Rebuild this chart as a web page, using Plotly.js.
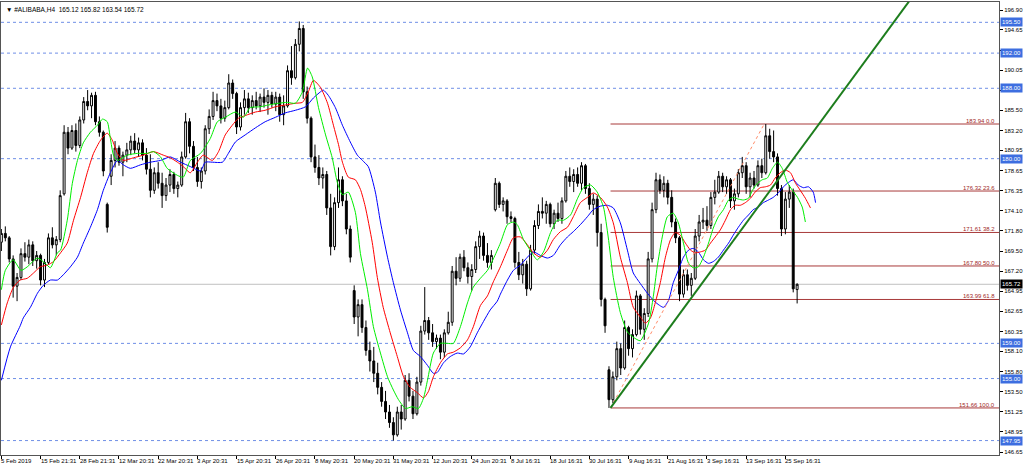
<!DOCTYPE html>
<html><head><meta charset="utf-8">
<script src="https://cdn.plot.ly/plotly-3.0.1.min.js"></script>
<style>html,body{margin:0;padding:0;background:#fff;}#chart{width:1024px;height:468px;}</style>
</head><body><div id="chart"></div>
<script>
const symbolName = '#ALIBABA,H4';
const opens = [170.5,171.5,171.0,168.6,165.5,166.5,169.2,168.8,170.2,168.4,
169.0,166.2,168.2,171.0,170.2,170.8,176.0,183.0,181.2,183.2,
181.5,184.4,186.5,186.0,187.2,184.2,183.0,174.8,178.0,179.8,
181.2,179.6,180.4,181.0,182.0,181.0,181.8,180.4,178.8,176.4,
178.4,177.2,175.8,177.0,178.2,176.6,177.0,180.2,184.2,181.4,
179.0,177.4,178.6,183.4,184.8,186.6,186.0,184.6,185.8,188.6,
187.4,183.6,185.8,186.8,185.8,186.6,186.0,187.0,186.4,187.2,
186.2,187.0,185.0,186.0,190.0,189.2,193.0,194.8,187.6,184.6,
180.2,179.0,177.8,178.2,174.4,170.0,175.0,177.6,175.2,172.0,
165.0,162.0,163.4,160.8,158.2,157.0,155.6,154.0,152.4,151.2,
150.0,148.6,151.2,150.4,154.8,153.0,151.0,154.6,160.4,161.6,
160.2,159.2,159.6,158.0,160.2,161.4,167.2,166.4,168.8,167.6,
166.6,167.4,170.0,171.2,169.0,168.2,174.2,177.2,174.8,175.2,
173.4,173.2,168.2,166.8,168.0,165.2,169.6,172.4,174.0,173.8,
174.8,172.6,173.8,173.2,175.2,178.0,177.4,178.2,177.2,179.2,
176.6,174.8,175.4,171.6,164.0,156.0,152.6,155.2,158.4,156.2,
160.8,158.4,160.0,164.4,160.6,162.4,168.6,174.2,177.6,176.4,
177.2,175.6,172.8,171.0,164.6,166.8,165.6,166.4,171.2,172.8,
173.0,172.4,175.6,176.2,178.0,176.8,177.6,175.2,176.0,178.4,
179.2,176.8,177.8,177.0,179.2,178.4,182.6,180.8,180.2,176.6,
172.0,175.4,176.2,165.12];
const highs = [172.0,172.3,171.2,169.0,167.0,169.8,170.5,170.8,170.6,169.5,
169.2,168.6,171.5,172.2,171.2,176.4,183.8,183.6,183.8,184.0,
184.8,187.0,187.8,187.5,187.6,184.8,183.2,175.0,180.5,182.0,
181.5,180.8,181.8,182.6,182.9,182.4,182.2,181.2,180.5,179.0,
179.6,178.4,177.8,178.8,178.5,177.4,180.8,185.2,184.6,182.0,
180.2,179.0,183.8,185.6,187.6,187.4,186.8,186.6,189.6,189.0,
187.6,186.4,187.8,187.5,187.2,187.6,187.4,188.0,187.8,187.6,
187.6,187.4,187.2,190.6,192.8,193.6,195.6,195.2,188.2,184.8,
181.6,180.4,179.0,178.6,176.0,175.6,179.0,178.0,176.0,172.4,
165.6,164.0,164.0,161.6,159.2,158.6,156.8,154.6,153.6,152.0,
150.6,151.8,152.0,155.4,155.6,153.6,155.2,161.0,165.4,162.0,
161.2,160.0,160.0,160.6,162.6,167.8,168.8,169.2,169.6,168.2,
168.0,170.6,171.8,171.6,170.4,169.6,177.8,177.4,175.6,175.4,
174.0,173.4,169.4,168.6,168.4,170.2,173.0,174.8,175.6,175.2,
175.0,174.2,175.0,175.6,178.6,179.0,178.8,179.0,179.6,179.4,
177.2,176.0,175.8,172.6,164.2,156.4,155.8,159.2,159.0,161.6,
161.0,160.6,165.0,164.6,163.0,169.4,175.0,178.4,178.2,178.0,
177.6,176.4,173.2,171.2,167.4,167.4,167.0,172.0,173.6,174.4,
174.6,176.2,177.6,178.6,178.4,178.0,177.8,176.6,178.8,180.2,
179.6,178.4,178.6,179.8,180.0,183.94,183.4,183.2,180.6,177.0,
176.2,177.0,176.6,165.82];
const lows = [169.5,170.6,168.2,164.2,163.8,166.2,168.3,168.0,167.8,167.5,
165.6,165.4,168.0,169.8,169.0,170.5,175.8,180.5,181.0,180.8,
181.2,184.0,185.5,184.6,183.8,182.5,178.0,171.6,177.0,179.0,
179.2,178.0,179.6,180.4,180.6,180.2,179.8,178.2,175.6,176.0,
176.6,174.4,175.2,176.2,176.0,175.6,176.8,180.0,180.6,178.6,
176.8,176.6,178.2,182.8,184.4,185.4,184.0,184.2,185.6,186.8,
182.8,183.2,185.0,185.2,185.0,185.6,185.3,185.8,185.0,185.8,
185.4,184.2,183.8,185.8,188.4,189.0,192.2,186.8,184.0,179.6,
178.4,177.0,176.6,173.6,169.0,169.6,174.4,174.6,171.4,168.2,
161.2,159.8,160.2,157.6,155.8,154.6,153.2,151.8,150.4,149.4,
147.95,148.4,149.2,150.2,152.4,150.4,150.8,154.2,160.0,159.4,
158.6,158.4,157.2,157.4,160.0,161.0,165.6,166.0,167.2,165.8,
165.0,167.0,168.6,168.4,167.6,167.4,174.0,174.4,174.0,172.6,
172.8,167.6,166.2,165.8,164.4,165.0,169.2,172.0,173.2,172.6,
172.2,172.0,172.8,172.6,175.0,176.8,176.2,176.8,176.4,176.0,
174.2,173.6,170.0,163.2,160.2,151.66,152.2,154.8,155.4,156.0,
157.6,157.4,159.8,160.0,159.4,162.0,168.2,173.8,176.0,175.6,
174.8,172.2,170.4,163.8,164.2,165.0,164.4,166.2,170.6,172.0,
171.8,172.0,174.8,176.0,176.2,176.0,174.4,174.2,175.6,177.8,
176.0,175.6,176.6,176.8,177.8,178.2,180.0,179.6,175.8,171.2,
171.4,174.4,164.8,163.54];
const closes = [171.5,171.0,168.6,165.5,166.5,169.2,168.8,170.2,168.4,169.0,
166.2,168.2,171.0,170.2,170.8,175.8,183.0,181.2,183.2,181.5,
184.4,186.5,186.0,187.2,184.2,183.0,178.6,172.2,179.8,181.2,
179.6,180.4,181.0,182.0,181.0,181.8,180.4,178.8,176.4,178.4,
177.2,175.8,177.0,178.2,176.6,177.0,180.2,184.2,181.4,179.0,
177.4,178.6,183.4,184.8,186.6,186.0,184.6,185.8,188.6,187.4,
183.6,185.8,186.8,185.8,186.6,186.0,187.0,186.4,187.2,186.2,
187.0,185.0,186.0,190.0,189.2,193.0,194.8,187.6,184.6,180.2,
179.0,177.8,178.2,174.4,170.0,175.0,177.6,175.2,172.0,168.8,
162.0,163.4,160.8,158.2,157.0,155.6,154.0,152.4,151.2,150.0,
148.6,151.2,150.4,154.8,153.0,151.0,154.6,160.4,161.6,160.2,
159.2,159.6,158.0,160.2,161.4,167.2,166.4,168.8,167.6,166.6,
167.4,170.0,171.2,169.0,168.2,169.0,177.2,174.8,175.2,173.4,
173.2,168.2,166.8,168.0,165.2,169.6,172.4,174.0,173.8,174.8,
172.6,173.8,173.2,175.2,178.0,177.4,178.2,177.2,179.2,176.6,
174.8,175.4,171.6,164.0,161.0,152.6,155.2,158.4,156.2,160.8,
158.4,160.0,164.4,160.6,162.4,168.6,174.2,177.6,176.4,177.2,
175.6,172.8,171.0,164.6,166.8,165.6,166.4,171.2,172.8,173.0,
172.4,175.6,176.2,178.0,176.8,177.6,175.2,176.0,178.4,179.2,
176.8,177.8,177.0,179.2,178.4,182.6,180.8,180.2,176.6,172.0,
175.4,176.2,165.2,165.72];

// Alligator lines, x in bar units
const lipsBars = [0,1,3,5,6.6,9.2,11.2,12.5,14.3,15.1,16.8,18.1,19.4,20.9,22.7,24.5,25.8,27,27.8,28.6,29.6,32.1,34.7,37.2,38.8,40.6,42.3,44.9,46.4,48.2,50.8,53.3,55.1,57.1,59.7,61.7,63.5,66.1,68.1,70.7,73,75,76.8,78.1,79.3,80.9,82.7,84.4,85.7,87,88.5,90.3,91.6,93.4,94.9,96.7,98.5,100,101.3,103.1,104.8,106.4,107.7,108.7,110.2,112,113.8,115.3,117.1,118.9,120.4,122.2,124,125.5,127.3,129.1,130.6,131.6,133.2,134.9,136.7,138.3,140.1,141.8,143.4,145.2,147,148.5,150.3,152,153.6,154.8,156.1,157.9,159.7,161.2,163,165.1,166.3,167.3,168.6,169.9,171.4,172.7,174,175.3,176.5,177.8,179.1,180.4,181.6,182.9,184.2,185.5,186.7,188,189.3,190.6,191.6,192.9,194.1,195.4,196.7,198,199.2,200.5,201.8,203.1,204.3,205.1];
const lipsVals = [165.1,167.3,168.5,167.3,167.7,168.7,168.1,167.6,169.3,169.6,173.0,177.2,179.8,181.8,183.0,183.8,184.5,184.2,182.3,180.4,179.8,180.4,180.6,180.6,180.8,180.2,178.9,178.1,177.9,179.8,180.6,182.3,184.2,184.7,185.3,184.7,185.8,185.9,186.1,186.3,186.4,186.3,187.6,190.3,189.3,185.8,182.7,180.1,177.3,175.9,176.2,173.9,169.2,165.1,160.9,157.9,155.2,153.7,152.6,151.6,151.8,151.6,152.8,154.8,157.9,159.0,159.0,159.0,160.9,163.6,165.4,166.4,167.3,168.6,170.4,172.5,172.8,172.5,170.8,169.6,168.5,169.4,171.6,173.0,173.0,173.6,175.5,176.7,177.0,176.2,174.5,171.1,166.5,162.5,160.3,159.7,159.3,161.3,164.3,167.7,171.1,173.4,173.8,172.7,170.4,168.1,167.6,167.7,168.8,170.4,172.1,173.4,174.2,175.3,175.6,175.4,175.3,175.5,176.4,177.2,177.6,177.8,178.9,179.6,178.9,177.3,176.4,175.6,174.5,172.8];
const teethBars = [0,1.5,3.1,4.8,6.6,8.2,9.9,11.7,13.3,15.1,16.8,18.4,20.2,21.9,23.5,25.3,27,28.3,29.6,31.1,33.7,36.2,38.8,41.3,43.1,44.9,46.4,48.2,50,51.5,53.8,55.4,57.1,58.9,60.5,62.2,64.8,67.3,69.9,72.4,75,76.8,78.3,79.6,81.4,83.2,84.7,86,87,88.5,90.3,91.6,92.8,94.6,95.9,97.4,99.2,101,102.6,104.3,106.1,107.7,108.9,110.2,112,113.8,115.3,117.1,118.9,120.4,122.2,124,125.5,127.3,129.1,130.6,132.4,134.2,135.7,137.5,139.3,140.8,142.6,144.4,145.9,147.7,149.5,151,152.8,154.6,156.1,157.9,159.7,161.2,163,164.3,165.6,166.8,168.1,169.4,170.7,171.9,173.2,174.5,175.8,177,178.3,179.6,180.9,182.1,183.4,184.7,186,187.2,188.5,189.8,191.1,192.3,193.6,194.9,196.2,197.4,198.7,200,201.3,202.6,203.8,205.1,206.4];
const teethVals = [161.1,163.6,165.4,166.2,166.4,167.0,167.7,167.9,168.3,169.3,170.4,173.0,175.6,178.4,180.6,182.1,182.9,182.1,180.6,179.8,180.1,180.4,180.8,180.4,180.1,179.6,179.1,178.4,179.6,180.4,179.8,180.8,182.7,183.8,184.6,184.9,185.3,185.5,185.9,186.1,186.3,186.4,187.6,188.9,188.1,186.3,183.8,181.6,179.6,177.9,177.6,176.5,174.6,170.5,166.5,163.1,160.2,157.5,155.2,154.0,153.4,152.8,153.5,155.2,156.8,157.8,158.0,158.5,159.4,160.9,163.3,164.4,166.0,167.7,169.6,171.0,171.1,170.2,169.3,168.8,169.6,170.8,171.7,172.2,173.4,175.0,175.6,176.1,175.6,174.5,172.7,168.8,165.9,163.1,162.0,161.3,161.9,163.6,165.9,168.8,170.8,171.6,171.3,170.4,169.6,169.3,169.4,169.6,170.4,171.1,171.9,173.0,174.2,174.7,174.7,175.0,175.5,176.2,176.7,176.8,177.0,177.8,178.4,178.7,178.4,177.2,176.4,175.5,174.4];
const jawBars = [0,2.3,4.8,5.6,7.4,9.2,10.7,12.5,14.3,15.8,17.6,19.4,20.9,22.7,24.5,26,27.8,29.6,31.1,32.9,35.5,38,40.6,43.1,45.7,48.2,50.8,52,53.8,56.4,57.9,59.7,62.2,64.8,67.3,69.9,72.4,75,77.6,79.6,81.4,82.1,83.4,85.2,87,89,90.8,92.1,93.6,95.4,96.7,98.5,100,101.8,103.6,105.1,106.9,108.7,110.2,111.2,112.8,114.5,116.3,117.9,119.6,121.4,123,124.7,126.5,127.3,129.1,130.6,132.4,134.2,135.7,137.5,139.3,140.8,142.6,144.4,145.9,147.7,149.5,151,152.8,154.6,156.1,157.9,159.7,161.2,163,164.8,166.8,168.9,170.2,171.4,172.7,174,175.3,176.5,177.8,179.1,180.4,181.6,182.9,184.2,185.5,186.7,188,189.3,190.6,191.8,193.1,194.4,195.7,196.9,198.2,199.5,200.8,202,203.3,204.6,205.9,207.1,207.7];
const jawVals = [154.8,158.6,161.0,161.9,163.1,164.7,165.6,166.2,166.2,166.8,167.7,168.8,170.4,172.2,174.2,176.4,178.4,179.8,179.3,178.9,179.3,179.6,179.8,180.2,179.6,179.1,178.6,179.6,179.6,179.6,180.6,181.9,182.7,183.5,184.2,184.7,185.2,185.5,185.9,186.9,187.6,187.8,187.2,185.8,183.8,181.9,180.4,179.8,179.1,176.2,172.8,168.8,165.9,162.8,160.2,158.2,157.5,156.5,155.6,155.7,156.8,157.5,157.9,157.8,158.6,160.2,161.5,162.8,163.8,164.6,166.2,167.3,167.9,168.8,169.4,169.0,168.7,169.0,170.2,171.1,171.7,172.5,173.4,174.2,174.6,174.7,174.4,172.7,169.6,167.0,165.8,164.7,163.7,163.1,163.9,165.9,167.3,168.8,169.6,169.8,169.4,168.5,168.1,168.3,168.8,169.6,170.4,171.3,172.2,173.0,173.6,174.2,174.5,175.0,175.3,175.6,176.1,176.8,177.3,177.6,177.0,176.7,176.8,176.2,175.0];

// Horizontal price levels
const levelPrices = [195.50, 192.00, 188.00, 180.00, 159.00, 155.00, 147.95];
const lastPrice = 165.72;
// Fibonacci retracement
const fibPrices = [183.94, 176.32, 171.61, 167.80, 163.99, 151.66];
const fibRatios = ['0.0', '23.6', '38.2', '50.0', '61.8', '100.0'];
const fibAnchorBars = [155.4, 194.6];
const fibAnchorPrices = [151.66, 183.94];
// Trend line anchors
const trendBars = [155.4, 260];
const trendPrices = [151.66, 215.15];

// Axis ticks (labels under the 192.00 / 188.00 boxes are hidden in the picture)
const yTickVals = [196.90,194.65,192.35,190.05,187.75,185.50,183.20,180.95,178.65,176.35,174.10,171.80,169.50,167.20,164.95,162.65,160.35,158.10,155.80,153.50,151.25,148.95,146.65];
const yTickHidden = [192.35, 187.75];
const xTickBars = [0,10,20,30,40,50,60,70,80,90,100,110,120,130,140,150,160,170,180,190,200];
const xTickLabels = ['5 Feb 2019','15 Feb 21:31','28 Feb 21:31','12 Mar 20:31','22 Mar 20:31','3 Apr 20:31','15 Apr 20:31','26 Apr 20:31','8 May 20:31','20 May 20:31','31 May 20:31','12 Jun 20:31','24 Jun 20:31','8 Jul 16:31','18 Jul 16:31','30 Jul 16:31','9 Aug 16:31','21 Aug 16:31','3 Sep 16:31','13 Sep 16:31','25 Sep 16:31'];

const FONT = 'Liberation Sans, Arial, sans-serif';
const FS = 6;
const xRange = [-0.1, 254.5];
const yRange = [146.31, 197.81];
const barIdx = opens.map((_, i) => i);
const last = opens.length - 1;

const traces = [
  {type:'scatter', mode:'lines', x:jawBars, y:jawVals, line:{color:'#0000ff', width:1, shape:'spline', smoothing:0.6}, hoverinfo:'skip'},
  {type:'scatter', mode:'lines', x:teethBars, y:teethVals, line:{color:'#ff0000', width:1, shape:'spline', smoothing:0.6}, hoverinfo:'skip'},
  {type:'scatter', mode:'lines', x:lipsBars, y:lipsVals, line:{color:'#00ee00', width:1, shape:'spline', smoothing:0.6}, hoverinfo:'skip'},
  {type:'scatter', mode:'lines', x:fibAnchorBars, y:fibAnchorPrices, line:{color:'#ff8c69', width:1, dash:'dot'}, hoverinfo:'skip'},
  {type:'scatter', mode:'lines', x:trendBars, y:trendPrices, line:{color:'#1d7d1d', width:2}, hoverinfo:'skip'},
  {type:'candlestick', x:barIdx, open:opens, high:highs, low:lows, close:closes,
   increasing:{line:{color:'#000', width:1}, fillcolor:'#ffffff'},
   decreasing:{line:{color:'#000', width:1}, fillcolor:'#000000'},
   whiskerwidth:0, hoverinfo:'none'}
];

const shapes = [];
levelPrices.forEach(p => shapes.push({type:'line', xref:'paper', x0:0, x1:1, yref:'y', y0:p, y1:p, line:{color:'#6f8fe6', width:1, dash:'dot'}, layer:'below'}));
shapes.push({type:'line', xref:'paper', x0:0, x1:1, yref:'y', y0:lastPrice, y1:lastPrice, line:{color:'#c0c0c0', width:1}, layer:'below'});
fibPrices.forEach(p => shapes.push({type:'line', xref:'x', x0:fibAnchorBars[0], x1:xRange[1], yref:'y', y0:p, y1:p, line:{color:'#a83a3a', width:1}, layer:'below'}));

const annotations = [];
annotations.push({xref:'paper', yref:'paper', x:0, y:1, xshift:3, yshift:-2, xanchor:'left', yanchor:'top', showarrow:false,
  text:'\u25BC ' + symbolName + '  ' + [opens[last], highs[last], lows[last], closes[last]].map(v=>v.toFixed(2)).join(' '),
  font:{family:FONT, size:FS+0.5, color:'#000'}});
levelPrices.forEach(p => annotations.push({xref:'paper', yref:'y', x:1, y:p, xanchor:'left', xshift:1, showarrow:false,
  text:p.toFixed(2), bgcolor:'#3d6ee0', borderpad:1, font:{family:FONT, size:FS, color:'#ffffff'}}));
annotations.push({xref:'paper', yref:'y', x:1, y:lastPrice, xanchor:'left', xshift:1, showarrow:false,
  text:lastPrice.toFixed(2), bgcolor:'#000000', borderpad:1, font:{family:FONT, size:FS, color:'#ffffff'}});
fibPrices.forEach((p, k) => annotations.push({xref:'x', yref:'y', x:xRange[1], y:p, xanchor:'right', yanchor:'bottom', xshift:-2, yshift:-2, showarrow:false,
  text:p.toFixed(2) + ' ' + fibRatios[k], font:{family:FONT, size:FS, color:'#a02828'}}));
xTickBars.forEach((b, k) => annotations.push({xref:'x', yref:'paper', x:b, y:0, xanchor:'left', yanchor:'top', xshift:-2, yshift:-1, showarrow:false,
  text:xTickLabels[k], font:{family:FONT, size:FS, color:'#000'}}));

const layout = {
  width:1024, height:468, margin:{l:1, r:25, t:2, b:13, pad:0},
  paper_bgcolor:'#ffffff', plot_bgcolor:'#ffffff', showlegend:false,
  xaxis:{range:xRange, type:'linear', showgrid:false, zeroline:false, showline:true, mirror:true, linecolor:'#555', linewidth:1,
    ticks:'outside', ticklen:3, tickcolor:'#000', tickvals:xTickBars, showticklabels:false, rangeslider:{visible:false}, fixedrange:true},
  yaxis:{range:yRange, side:'right', showgrid:false, zeroline:false, showline:true, mirror:true, linecolor:'#555', linewidth:1,
    ticks:'outside', ticklen:3, tickcolor:'#000', tickvals:yTickVals,
    ticktext:yTickVals.map(v => yTickHidden.includes(v) ? '' : v.toFixed(2)),
    tickfont:{family:FONT, size:FS, color:'#000'}, fixedrange:true},
  shapes:shapes, annotations:annotations
};
Plotly.newPlot('chart', traces, layout, {staticPlot:true, displayModeBar:false});
</script></body></html>
